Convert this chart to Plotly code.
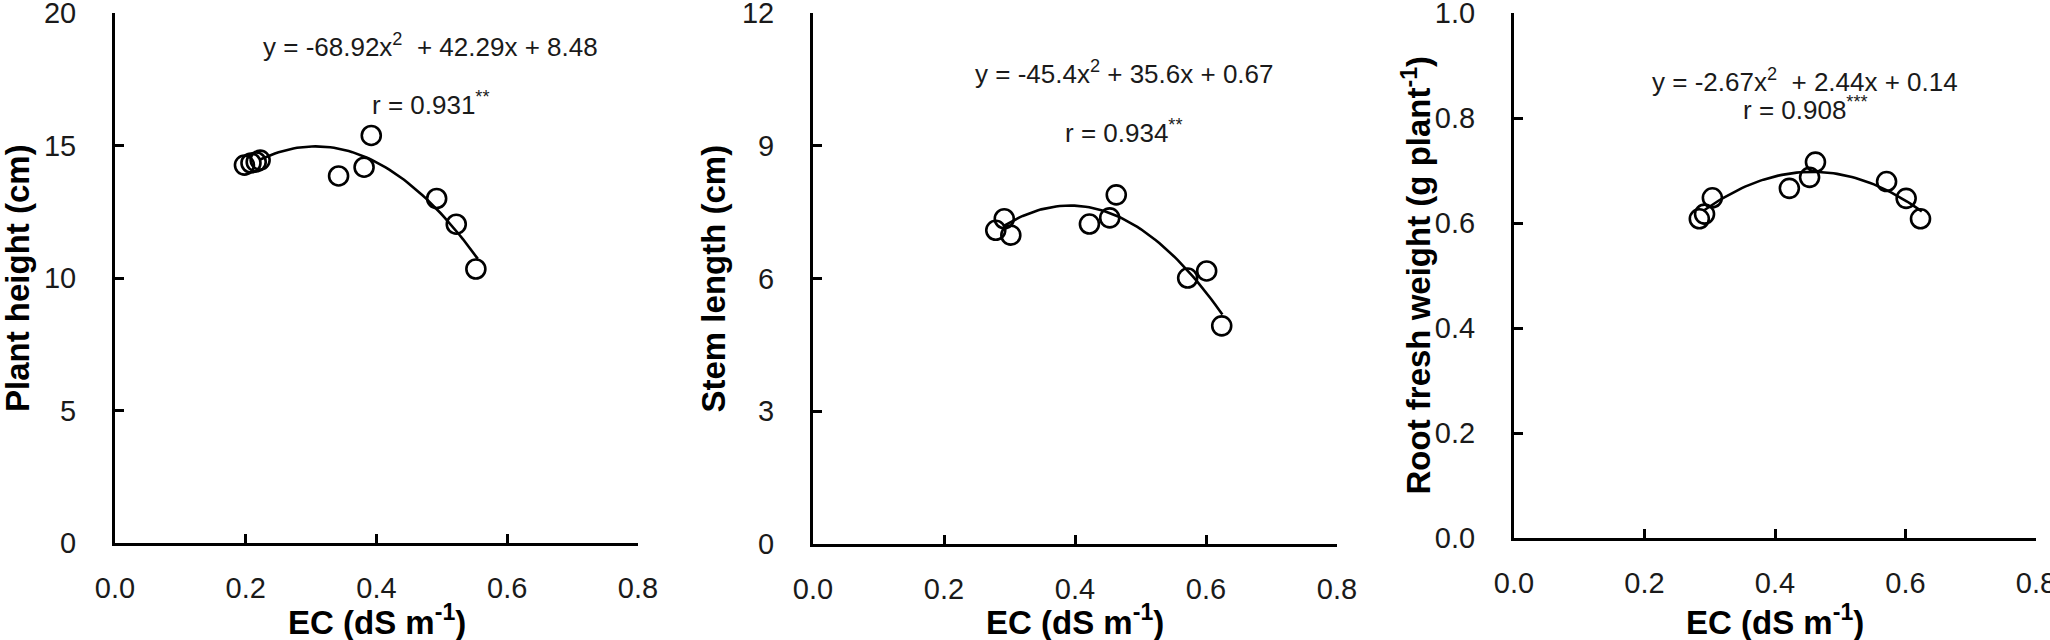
import numpy as np
import plotly.graph_objects as go
from plotly.subplots import make_subplots

ec_height = [0.198, 0.208, 0.216, 0.222, 0.342, 0.381, 0.392, 0.492, 0.522, 0.552]
plant_height = [14.26, 14.34, 14.38, 14.45, 13.85, 14.18, 15.38, 13.0, 12.03, 10.34]

ec_stem = [0.279, 0.292, 0.302, 0.422, 0.453, 0.463, 0.572, 0.601, 0.624]
stem_length = [7.09, 7.35, 6.98, 7.23, 7.37, 7.89, 6.01, 6.17, 4.93]

ec_root = [0.284, 0.292, 0.304, 0.422, 0.453, 0.462, 0.571, 0.601, 0.623]
root_weight = [0.608, 0.617, 0.648, 0.666, 0.687, 0.716, 0.679, 0.647, 0.608]

# quadratic fits printed on the chart (a, b, c) and the x span of each fitted curve
fit_height = [-68.92, 42.29, 8.48]
fit_stem = [-45.4, 35.6, 0.67]
fit_root = [-2.67, 2.44, 0.14]
span_height = [0.222, 0.555]
span_stem = [0.292, 0.625]
span_root = [0.292, 0.625]

eq_texts = ['y = -68.92x<sup>2</sup>  + 42.29x + 8.48',
            'y = -45.4x<sup>2</sup> + 35.6x + 0.67',
            'y = -2.67x<sup>2</sup>  + 2.44x + 0.14']
r_texts = ['r = 0.931<sup>**</sup>', 'r = 0.934<sup>**</sup>', 'r = 0.908<sup>***</sup>']
x_title = 'EC (dS m<sup>-1</sup>)'
y_titles = ['Plant height (cm)', 'Stem length (cm)', 'Root fresh weight (g plant<sup>-1</sup>)']
x_ticks = [0.0, 0.2, 0.4, 0.6, 0.8]
y_ticks = [[0, 5, 10, 15, 20], [0, 3, 6, 9, 12], [0.0, 0.2, 0.4, 0.6, 0.8, 1.0]]
y_formats = ['d', 'd', '.1f']

FONT = 'Liberation Sans, Arial, sans-serif'

panels = [
    (ec_height, plant_height, fit_height, span_height),
    (ec_stem, stem_length, fit_stem, span_stem),
    (ec_root, root_weight, fit_root, span_root),
]

fig = make_subplots(rows=1, cols=3)

for i, (xs, ys, fit, span) in enumerate(panels):
    col = i + 1
    a, b, c = fit
    xc = np.linspace(span[0], span[1], 60)
    yc = a * xc ** 2 + b * xc + c
    fig.add_trace(go.Scatter(x=xc, y=yc, mode='lines',
                             line=dict(color='black', width=2.6),
                             showlegend=False, hoverinfo='skip'), row=1, col=col)
    fig.add_trace(go.Scatter(x=xs, y=ys, mode='markers',
                             marker=dict(symbol='circle-open', size=19, color='black',
                                         line=dict(width=2.6, color='black')),
                             showlegend=False), row=1, col=col)

# panel placement in pixels (left, right, top, bottom) -> paper coordinates
W, H = 2050, 640
boxes = [(115, 638, 13, 543), (813, 1337, 13, 544), (1514, 2036, 13, 538)]
eq_pos = [(0.483, 18.79, 16.57), (0.475, 10.66, 9.33), (0.446, 0.872, 0.819)]
ytitle_px = [17, 713, 1416]

for i in range(3):
    col = i + 1
    l, r, t, b = boxes[i]
    fig.update_xaxes(domain=[l / W, r / W], range=[0, 0.8], tickvals=x_ticks,
                     tickformat='.1f', showgrid=False, zeroline=False, automargin=False,
                     showline=True, linecolor='black', linewidth=3,
                     ticks='inside', ticklen=9, tickwidth=3, tickcolor='black',
                     ticklabelstandoff=17, ticklabeloverflow='allow',
                     tickfont=dict(family=FONT, size=29, color='#1a1a1a'),
                     row=1, col=col)
    fig.update_yaxes(domain=[1 - b / H, 1 - t / H], range=[y_ticks[i][0], y_ticks[i][-1]],
                     tickvals=y_ticks[i], tickformat=y_formats[i],
                     showgrid=False, zeroline=False, automargin=False,
                     showline=True, linecolor='black', linewidth=3,
                     ticks='inside', ticklen=9, tickwidth=3, tickcolor='black',
                     ticklabelstandoff=30, ticklabeloverflow='allow',
                     tickfont=dict(family=FONT, size=29, color='#1a1a1a'),
                     row=1, col=col)
    xr = 'x' if i == 0 else f'x{col}'
    yr = 'y' if i == 0 else f'y{col}'
    ex, ey, ry = eq_pos[i]
    fig.add_annotation(x=ex, y=ey, xref=xr, yref=yr, text=eq_texts[i], showarrow=False,
                       xanchor='center', yanchor='middle',
                       font=dict(family=FONT, size=26, color='#1a1a1a'))
    fig.add_annotation(x=ex, y=ry, xref=xr, yref=yr, text=r_texts[i], showarrow=False,
                       xanchor='center', yanchor='middle',
                       font=dict(family=FONT, size=26, color='#1a1a1a'))
    # axis titles
    fig.add_annotation(x=(l + r) / 2 / W, y=(H - 620) / H, xref='paper', yref='paper',
                       text=x_title, showarrow=False, xanchor='center', yanchor='middle',
                       font=dict(family=FONT, size=33, color='black', weight='bold'))
    fig.add_annotation(x=ytitle_px[i] / W, y=1 - (t + b) / 2 / H, xref='paper', yref='paper',
                       text=y_titles[i], showarrow=False, textangle=-90,
                       xanchor='center', yanchor='middle',
                       font=dict(family=FONT, size=33, color='black', weight='bold'))

fig.update_layout(width=W, height=H, margin=dict(l=0, r=0, t=0, b=0),
                  plot_bgcolor='white', paper_bgcolor='white', showlegend=False)

# the page body has a default 8px margin; drop it so the figure fills the window
fig.write_html("out.html", config={'displayModeBar': False},
               post_script="document.body.style.margin = '0px';")
